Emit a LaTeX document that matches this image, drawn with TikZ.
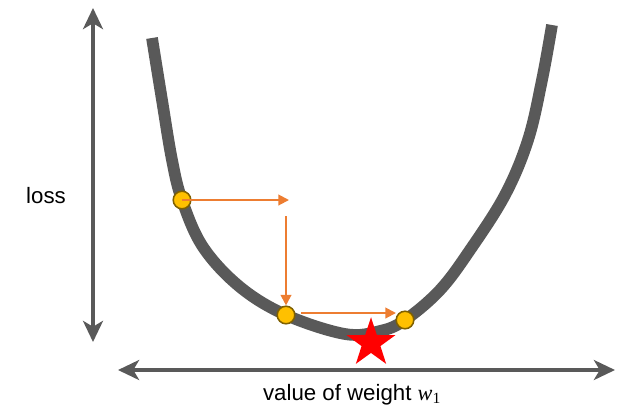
\documentclass[tikz,border=0pt]{standalone}
\usepackage{fontspec}
\setmainfont{Liberation Sans}
\newfontfamily\serifw{Liberation Serif}
\usetikzlibrary{shapes.geometric, arrows.meta}

\definecolor{axisGray}{HTML}{595959}
\definecolor{stepOrange}{HTML}{ED7D31}
\definecolor{dotYellow}{HTML}{FFC000}
\definecolor{dotEdge}{HTML}{7F6000}

\begin{document}
\begin{tikzpicture}[
    x=0.03cm, y=-0.03cm,
    font=\fontsize{19}{22}\selectfont,
    axis/.style={{Stealth[length=18pt, width=17pt, inset=5pt]}-{Stealth[length=18pt, width=17pt, inset=5pt]},
                 line width=3.4pt, draw=axisGray},
    lossCurve/.style={line width=10pt, draw=axisGray},
    dot/.style={circle, draw=dotEdge, line width=1.3pt, fill=dotYellow,
                minimum size=15pt, inner sep=0pt},
    stepArr/.style={-{Triangle[length=9pt, width=9pt]}, line width=1.7pt, draw=stepOrange},
    best/.style={star, star points=5, star point ratio=2.6, fill=red,
                 minimum size=44pt, inner sep=0pt}
  ]
  \useasboundingbox (0,0) rectangle (623,409);

  %% ---- Axes ----
  \coordinate (yTop) at (93,8);
  \coordinate (yBot) at (93,342);
  \coordinate (xLeft) at (118,370);
  \coordinate (xRight) at (615,370);
  \draw[axis] (yBot) -- (yTop);
  \draw[axis] (xLeft) -- (xRight);

  \node (lossLbl) at (46,196) {loss};
  \node[anchor=base, inner sep=1pt] (weightLbl) at (352,400)
      {value of weight {\serifw\itshape w}\textsubscript{\serifw 1}};

  %% ---- Loss curve ----
  \draw[lossCurve] plot[smooth, tension=0.6] coordinates {
      (152,38) (162,100) (172,160) (182,200) (203,247) (240,287)
      (286,315) (345,334) (380,331) (405,320) (440,290) (470,250)
      (505,195) (528,140) (542,80) (552,25)};

  %% ---- Minimum ----
  \node[best] (minStar) at (371,343) {};

  %% ---- Gradient steps ----
  \node[dot] (p1) at (182,200) {};
  \node[dot] (p2) at (286,315) {};
  \node[dot] (p3) at (405,320) {};

  \coordinate (h1) at (289,200);
  \coordinate (v1top) at (286,216);
  \coordinate (h2start) at (301,313);
  \coordinate (h2) at (396,313);

  \draw[stepArr] (p1.center) -- (h1);
  \draw[stepArr] (v1top) -- (p2.north);
  \draw[stepArr] (h2start) -- (h2);

\end{tikzpicture}
\end{document}
